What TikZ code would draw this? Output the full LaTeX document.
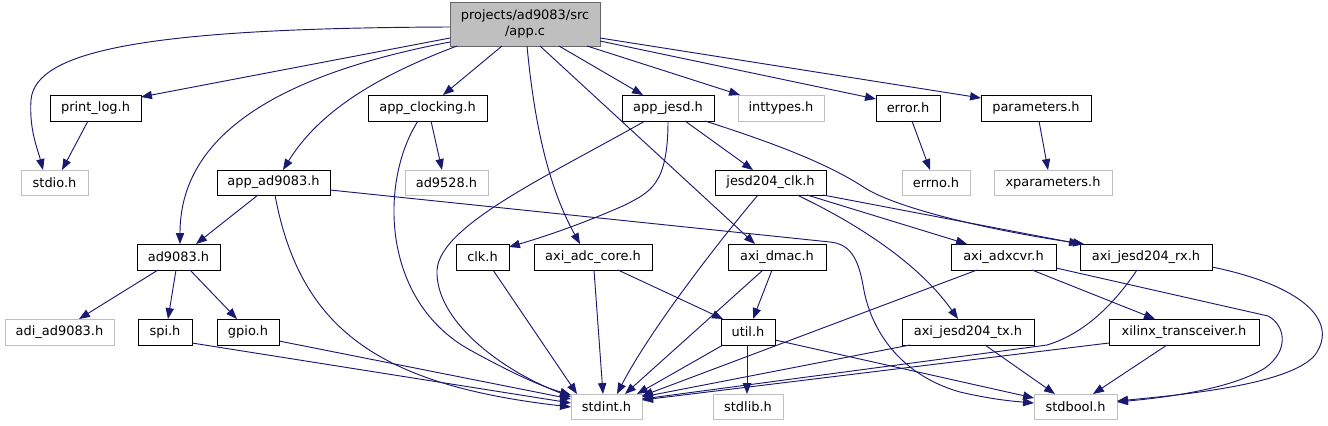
\documentclass[tikz,border=0pt]{standalone}
\usepackage{fontspec}
\setmainfont{DejaVu Sans}
\usetikzlibrary{arrows.meta}
\definecolor{edgeblue}{HTML}{191970}
\definecolor{gborder}{HTML}{BFBFBF}
\definecolor{mainfill}{HTML}{BFBFBF}
\definecolor{mainborder}{HTML}{666666}
\newcommand\bx[7]{\node[#7,minimum width={(#4-#2)*0.75pt},minimum height={(#5-#3)*0.75pt}] (#1) at ({(#2+#4)/2},{(#3+#5)/2}) {#6};}
\begin{document}
\begin{tikzpicture}[x=0.75pt,y=-0.75pt,
  every node/.style={inner sep=0pt,outer sep=0pt,font=\fontsize{9.7}{11.5}\selectfont},
  doc/.style={draw=black,line width=0.75pt,fill=white},
  ext/.style={draw=gborder,line width=0.75pt,fill=white},
  main/.style={draw=mainborder,line width=0.75pt,fill=mainfill,align=center},
  dep/.style={draw=edgeblue,line width=0.7pt,-{Triangle[length=8.2pt,width=6.2pt]}}]
\useasboundingbox (0,0) rectangle (1328,425);
% nodes
\bx{app}{450}{2}{600}{46}{projects/ad9083/src\\/app.c}{main}
\bx{plog}{50}{95}{141}{121}{print\_log.h}{doc}
\bx{stdio}{21}{170}{88}{195}{stdio.h}{ext}
\bx{appad}{217}{170}{330}{195}{app\_ad9083.h}{doc}
\bx{appclk}{368}{95}{487}{121}{app\_clocking.h}{doc}
\bx{ad9528}{405}{170}{488}{195}{ad9528.h}{ext}
\bx{appjesd}{622}{95}{714}{121}{app\_jesd.h}{doc}
\bx{inttypes}{738}{95}{824}{121}{inttypes.h}{ext}
\bx{error}{876}{95}{940}{121}{error.h}{doc}
\bx{params}{981}{95}{1091}{121}{parameters.h}{doc}
\bx{errno}{902}{170}{970}{195}{errno.h}{ext}
\bx{xparams}{994}{170}{1112}{195}{xparameters.h}{ext}
\bx{jclk}{715}{170}{826}{195}{jesd204\_clk.h}{doc}
\bx{ad9083}{137}{244}{220}{270}{ad9083.h}{doc}
\bx{adi}{5}{319}{114}{345}{adi\_ad9083.h}{ext}
\bx{spi}{138}{319}{192}{345}{spi.h}{doc}
\bx{gpio}{217}{319}{279}{345}{gpio.h}{doc}
\bx{clk}{456}{244}{509}{270}{clk.h}{doc}
\bx{adc}{534}{244}{652}{270}{axi\_adc\_core.h}{doc}
\bx{dmac}{728}{244}{826}{270}{axi\_dmac.h}{doc}
\bx{util}{721}{319}{775}{345}{util.h}{doc}
\bx{stdint}{571}{394}{642}{419}{stdint.h}{ext}
\bx{stdlib}{713}{394}{783}{419}{stdlib.h}{ext}
\bx{adxcvr}{951}{244}{1056}{270}{axi\_adxcvr.h}{doc}
\bx{rx}{1080}{244}{1212}{270}{axi\_jesd204\_rx.h}{doc}
\bx{tx}{902}{319}{1034}{345}{axi\_jesd204\_tx.h}{doc}
\bx{xil}{1109}{319}{1259}{345}{xilinx\_transceiver.h}{doc}
\bx{stdbool}{1034}{394}{1117}{419}{stdbool.h}{ext}
% edges from app.c
\draw[dep] (app.west |- 0,27) .. controls (150,28) and (35,50) .. (31,100) .. controls (29,130) and (38,150) .. (stdio.north -| 43,0);
\draw[dep] (app.west |- 0,38) -- (plog.east |- 0,97);
\draw[dep] (app.west |- 0,42) .. controls (250,80) and (180,150) .. (ad9083.north -| 180,0);
\draw[dep] (app.south -| 457,0) .. controls (380,75) and (320,110) .. (appad.north -| 283,0);
\draw[dep] (app.south -| 502,0) -- (appclk.north -| 443,0);
\draw[dep] (app.south -| 527,0) .. controls (535,130) and (550,190) .. (adc.north -| 580,0);
\draw[dep] (app.south -| 540,0) -- (dmac.north -| 755,0);
\draw[dep] (app.south -| 559,0) -- (appjesd.north -| 643,0);
\draw[dep] (app.south -| 587,0) -- (inttypes.north -| 740,0);
\draw[dep] (app.east |- 0,41) -- (error.west |- 0,99);
\draw[dep] (app.east |- 0,38) -- (params.west |- 0,98);
% second level
\draw[dep] (plog.south -| 88,0) -- (stdio.north -| 62,0);
\draw[dep] (appclk.south -| 431,0) -- (ad9528.north -| 442,0);
\draw[dep] (appclk.south -| 418,0) .. controls (380,180) and (380,300) .. (470,350) .. controls (510,372) and (540,386) .. (stdint.west |- 0,395);
\draw[dep] (appjesd.south -| 645,0) .. controls (550,175) and (440,225) .. (437,270) .. controls (435,320) and (500,370) .. (stdint.west |- 0,397);
\draw[dep] (appjesd.south -| 668,0) .. controls (668,185) and (650,192) .. (625,205) .. controls (580,225) and (540,238) .. (clk.east |- 0,247);
\draw[dep] (appjesd.south -| 685,0) -- (jclk.north -| 753,0);
\draw[dep] (appjesd.south -| 705,0) .. controls (780,145) and (830,165) .. (865,188) .. controls (900,210) and (1000,232) .. (rx.north -| 1084,0);
\draw[dep] (error.south -| 912,0) -- (errno.north -| 930,0);
\draw[dep] (params.south -| 1039,0) -- (xparams.north -| 1048,0);
\draw[dep] (appad.south -| 258,0) -- (ad9083.north -| 196,0);
\draw[dep] (appad.south -| 275,0) .. controls (300,330) and (380,385) .. (stdint.west |- 0,407);
\draw[dep] (appad.east |- 0,190) -- (830,242) .. controls (850,244) and (858,258) .. (863,285) .. controls (870,330) and (900,375) .. (960,392) .. controls (990,399) and (1010,401) .. (stdbool.west |- 0,403);
\draw[dep] (ad9083.south -| 158,0) -- (adi.north -| 79,0);
\draw[dep] (ad9083.south -| 176,0) -- (spi.north -| 168,0);
\draw[dep] (ad9083.south -| 190,0) -- (gpio.north -| 237,0);
\draw[dep] (spi.east |- 0,343) -- (stdint.west |- 0,403);
\draw[dep] (gpio.east |- 0,341) -- (stdint.west |- 0,399);
\draw[dep] (clk.south -| 493,0) -- (stdint.north -| 577,0);
\draw[dep] (adc.south -| 594,0) -- (stdint.north -| 603,0);
\draw[dep] (adc.south -| 618,0) -- (util.north -| 723,0);
\draw[dep] (dmac.south -| 763,0) -- (stdint.north -| 625,0);
\draw[dep] (dmac.south -| 772,0) -- (util.north -| 753,0);
\draw[dep] (jclk.south -| 758,0) .. controls (720,240) and (650,330) .. (stdint.north -| 617,0);
\draw[dep] (jclk.south -| 807,0) -- (adxcvr.north -| 967,0);
\draw[dep] (jclk.south -| 823,0) -- (rx.north -| 1080,0);
\draw[dep] (jclk.south -| 797,0) .. controls (860,225) and (920,265) .. (tx.north -| 958,0);
\draw[dep] (util.south -| 723,0) -- (stdint.north -| 637,0);
\draw[dep] (util.south -| 747,0) -- (stdlib.north -| 747,0);
\draw[dep] (util.east |- 0,340) -- (stdbool.west |- 0,398);
\draw[dep] (adxcvr.south -| 977,0) -- (stdint.east |- 0,396);
\draw[dep] (adxcvr.south -| 1032,0) -- (xil.north -| 1155,0);
\draw[dep] (adxcvr.east |- 0,268) -- (1268,316) .. controls (1285,325) and (1290,350) .. (1265,368) .. controls (1230,390) and (1160,398) .. (stdbool.east |- 0,402);
\draw[dep] (rx.south -| 1137,0) .. controls (1110,310) and (1080,335) .. (1047,345) -- (stdint.east |- 0,399);
\draw[dep] (rx.east |- 0,267) .. controls (1300,285) and (1340,320) .. (1315,355) .. controls (1290,385) and (1180,395) .. (stdbool.east |- 0,401);
\draw[dep] (tx.south -| 910,0) -- (stdint.east |- 0,397);
\draw[dep] (tx.south -| 985,0) -- (stdbool.north -| 1055,0);
\draw[dep] (xil.west |- 0,343) -- (stdint.east |- 0,400);
\draw[dep] (xil.south -| 1167,0) -- (stdbool.north -| 1093,0);
\end{tikzpicture}
\end{document}
